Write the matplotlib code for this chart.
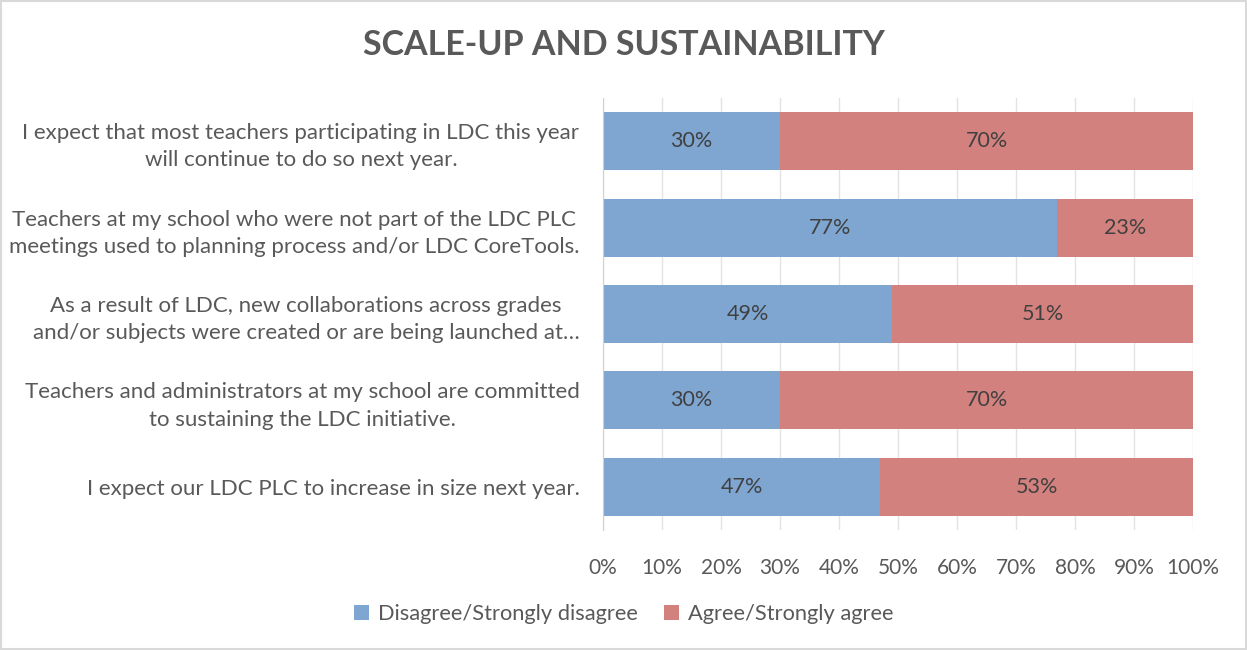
import numpy as np
import matplotlib.pyplot as plt
from matplotlib.patches import Rectangle

plt.rcParams['font.family'] = ['Lato', 'DejaVu Sans']

# Data (top to bottom as shown)
statements = [
    "I expect that most teachers participating in LDC this year\nwill continue to do so next year.",
    "Teachers at my school who were not part of the LDC PLC\nmeetings used to planning process and/or LDC CoreTools.",
    "As a result of LDC, new collaborations across grades\nand/or subjects were created or are being launched at…",
    "Teachers and administrators at my school are committed\nto sustaining the LDC initiative.",
    "I expect our LDC PLC to increase in size next year.",
]
disagree = [0.30, 0.77, 0.49, 0.30, 0.47]
agree = [0.70, 0.23, 0.51, 0.70, 0.53]
series_names = ["Disagree/Strongly disagree", "Agree/Strongly agree"]

blue = '#7FA6D1'
red = '#D3817E'
text_col = '#595959'

fig = plt.figure(figsize=(12.47, 6.5), dpi=100)
fig.patches.append(Rectangle((0.001, 0.001), 0.998, 0.997, transform=fig.transFigure,
                             fill=False, edgecolor='#D9D9D9', linewidth=1.5))

ax = fig.add_axes([0.4836, 0.1846, 0.4731, 0.6646])
y = np.arange(len(statements))
h = 0.67
b1 = ax.barh(y, disagree, height=h, color=blue, label=series_names[0], zorder=2)
b2 = ax.barh(y, agree, left=disagree, height=h, color=red, label=series_names[1], zorder=2)

for bars, vals in ((b1, disagree), (b2, agree)):
    for bar, v in zip(bars, vals):
        ax.text(bar.get_x() + bar.get_width() / 2, bar.get_y() + bar.get_height() / 2,
                f"{round(v * 100)}%", ha='center', va='center', fontsize=15.5,
                color='#404040', zorder=3)

ax.set_xlim(0, 1)
ax.set_ylim(len(statements) - 0.5, -0.5)
ax.set_xticks(np.arange(0, 1.01, 0.1))
ax.set_xticklabels([f"{int(round(t * 100))}%" for t in np.arange(0, 1.01, 0.1)])
ax.set_yticks(y)
ax.set_yticklabels(statements, multialignment='center', linespacing=1.45)
ax.tick_params(axis='y', length=0, pad=17, labelsize=16, labelcolor=text_col)
ax.tick_params(axis='x', length=0, pad=20, labelsize=15, labelcolor=text_col)
ax.grid(axis='x', color='#E3E3E3', linewidth=1, zorder=0)
for s in ('top', 'right', 'bottom'):
    ax.spines[s].set_visible(False)
ax.spines['left'].set_color('#D0D0D0')

fig.suptitle("SCALE-UP AND SUSTAINABILITY", fontsize=24.5, fontweight='bold',
             color=text_col, y=0.955)

fig.legend(handles=[b1, b2], labels=series_names, loc='center', bbox_to_anchor=(0.5, 0.055),
           ncol=2, frameon=False, fontsize=15.75, labelcolor=text_col, handlelength=0.7,
           handleheight=0.7, handletextpad=0.4, columnspacing=1.2)

fig.savefig('out.png', dpi=100)
